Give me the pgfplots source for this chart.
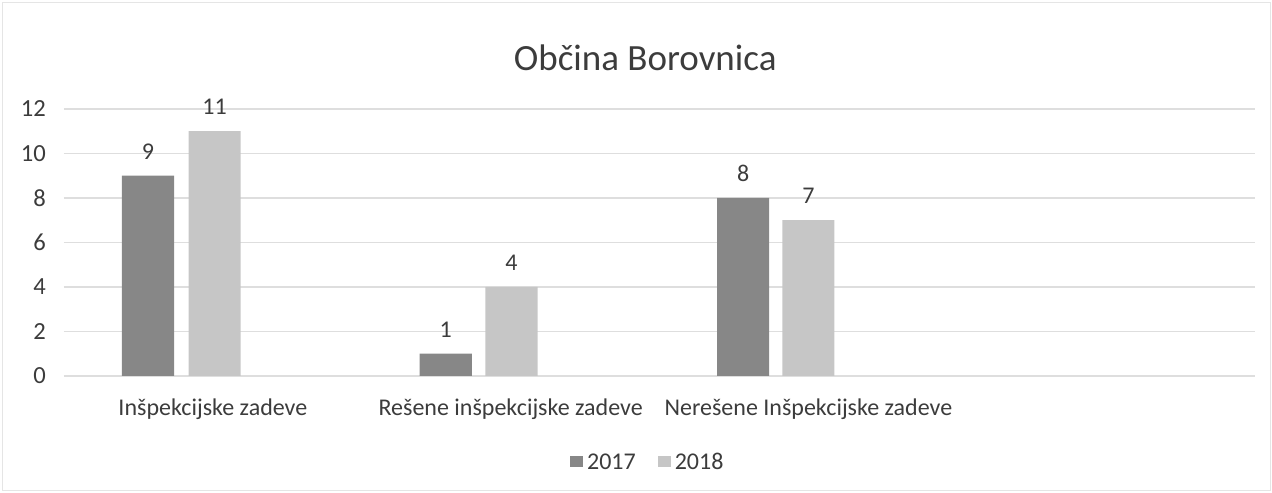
\documentclass[border=0pt]{standalone}
\usepackage{pgfplots}
\pgfplotsset{compat=1.18}
\usepackage{fontspec}
\setmainfont{Carlito}
\definecolor{barA}{RGB}{135,135,135}
\definecolor{barB}{RGB}{198,198,198}
\definecolor{gridc}{RGB}{222,222,222}
\definecolor{txt}{RGB}{60,60,60}
\begin{document}
\begin{tikzpicture}
\path[use as bounding box] (0,0) rectangle (636pt,246pt);
\draw[gray!20] (1pt,1pt) rectangle (635pt,245pt);
\begin{axis}[
  at={(32pt,58pt)}, anchor=south west,
  scale only axis, width=595.5pt, height=133.5pt,
  xmin=-0.5, xmax=3.5, ymin=0, ymax=12,
  ytick={0,2,...,12},
  xtick={0,1,2},
  xticklabels={Inšpekcijske zadeve, Rešene inšpekcijske zadeve, Nerešene Inšpekcijske zadeve},
  axis line style={draw=none},
  major tick length=0pt,
  ymajorgrids, grid style={gridc, line width=0.6pt},
  yticklabel style={font=\fontsize{12.3}{14}\selectfont, text=txt, xshift=-5.5pt},
  xticklabel style={font=\fontsize{12}{14}\selectfont, text=txt, yshift=-8pt},
  /pgf/number format/assume math mode=true,
  bar width=0.175,
  nodes near coords,
  nodes near coords style={font=\fontsize{12}{14}\selectfont, text=txt, yshift=4.7pt},
  legend columns=2,
  legend style={at={(0.491,-0.322)}, anchor=center, draw=none, font=\fontsize{12}{14}\selectfont, text=txt,
    nodes={text height=8pt, text depth=0pt, inner sep=2pt},
    /tikz/every even column/.append style={column sep=9pt}},
  legend image code/.code={\fill[#1] (0pt,-2.75pt) rectangle (6.5pt,2.75pt);},
  clip=false,
]
\addplot[ybar, fill=barA, draw=none, bar shift=0pt] coordinates {(-0.218,9) (0.782,1) (1.781,8)};
\addplot[ybar, fill=barB, draw=none, bar shift=0pt] coordinates {(0.006,11) (1.003,4) (2.000,7)};
\legend{2017,2018}
\node[font=\fontsize{18.5}{22}\selectfont, text=txt] at (rel axis cs:0.488,1) [yshift=25.5pt] {Občina Borovnica};
\end{axis}
\end{tikzpicture}
\end{document}
